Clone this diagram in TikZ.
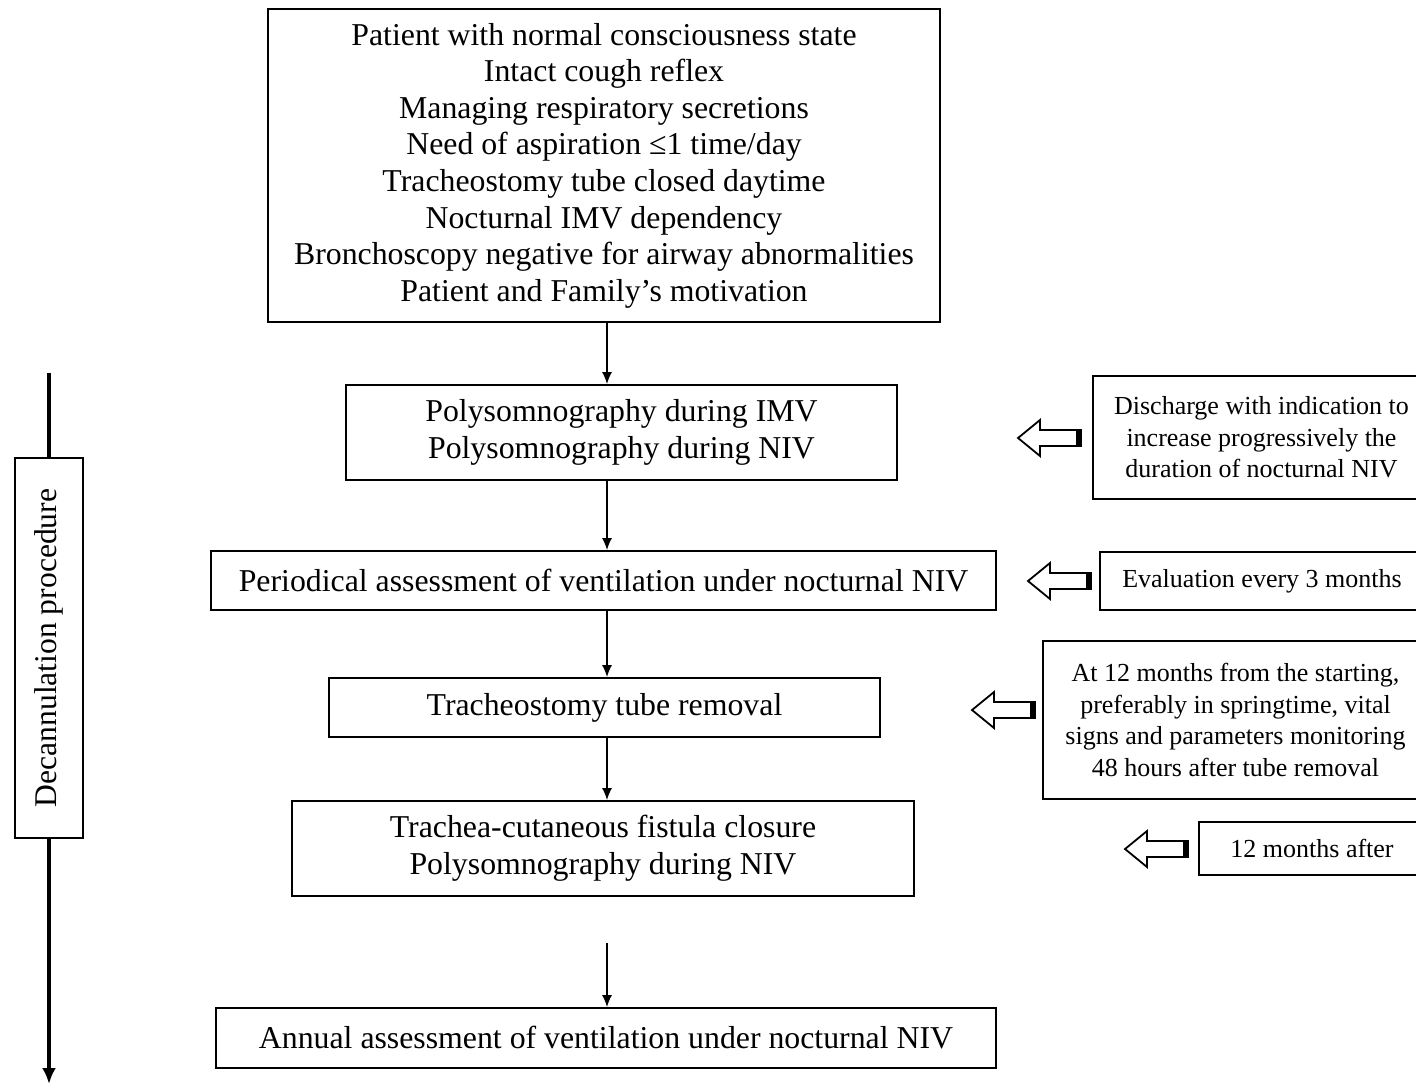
\documentclass[tikz,border=0pt]{standalone}
\usepackage{fontspec}
\setmainfont{Liberation Serif}
\usetikzlibrary{arrows.meta}
\begin{document}
\begin{tikzpicture}[x=0.5pt,y=-0.5pt,
  box/.style={draw, line width=0.9pt, inner sep=0pt, align=center, font=\fontsize{15.9}{18.3}\selectfont},
  sbox/.style={draw, line width=0.9pt, inner sep=0pt, align=center, font=\fontsize{13}{15.8}\selectfont},
  flow/.style={line width=0.75pt, -{Latex[length=6pt,width=5pt]}},
  hollow/.pic={
    \draw[line width=0.9pt, fill=white] (0,0) -- (22,-18) -- (22,-8) -- (63,-8) -- (63,8) -- (22,8) -- (22,18) -- cycle;
    \fill (58,-8) rectangle (63,8);
  }]
\useasboundingbox (0,0) rectangle (1416,1086);
\clip (0,0) rectangle (1416,1086);

\node[box, minimum width=336pt, minimum height=156.5pt] (top) at (604,165.5)
 {Patient with normal consciousness state\\ Intact cough reflex\\ Managing respiratory secretions\\ Need of aspiration ≤1 time/day\\ Tracheostomy tube closed daytime\\ Nocturnal IMV dependency\\ Bronchoscopy negative for airway abnormalities\\ Patient and Family’s motivation};
\node[box, minimum width=275.5pt, minimum height=47.5pt] (b2) at (621.5,432.5)
 {Polysomnography during IMV\\ Polysomnography during NIV};
\node[box, minimum width=392.5pt, minimum height=29.5pt] (b3) at (603.5,580.5)
 {Periodical assessment of ventilation under nocturnal NIV};
\node[box, minimum width=275.5pt, minimum height=29.5pt] (b4) at (604.5,707.5)
 {Tracheostomy tube removal};
\node[box, minimum width=311pt, minimum height=47.5pt] (b5) at (603,848.5)
 {Trachea-cutaneous fistula closure\\ Polysomnography during NIV};
\node[box, minimum width=390pt, minimum height=30pt] (b6) at (606,1038)
 {Annual assessment of ventilation under nocturnal NIV};

\node[sbox, minimum width=168.5pt, minimum height=61.5pt] (r1) at (1261.5,437.5)
 {Discharge with indication to\\ increase progressively the\\ duration of nocturnal NIV};
\node[sbox, minimum width=162pt, minimum height=29pt] (r2) at (1262,581)
 {Evaluation every 3 months};
\node[sbox, minimum width=192.5pt, minimum height=79pt] (r3) at (1235.5,720)
 {At 12 months from the starting,\\ preferably in springtime, vital\\ signs and parameters monitoring\\ 48 hours after tube removal};
\node[sbox, minimum width=113pt, minimum height=26.5pt] (r4) at (1312,848.5)
 {12 months after};

\pic at (1018,438) {hollow};
\pic at (1028,581) {hollow};
\pic at (972,710) {hollow};
\pic at (1125,849) {hollow};

\coordinate (ax) at (607,0);
\coordinate (s6) at (607,943);
\draw[flow] (top.south -| ax) -- (b2.north -| ax);
\draw[flow] (b2.south -| ax) -- (b3.north -| ax);
\draw[flow] (b3.south -| ax) -- (b4.north -| ax);
\draw[flow] (b4.south -| ax) -- (b5.north -| ax);
\draw[flow] (s6) -- (b6.north -| ax);

\node[draw, line width=0.9pt, inner sep=0pt, rotate=90, minimum width=190pt, minimum height=34pt, font=\fontsize{15.8}{18}\selectfont] (lab) at (49,648) {Decannulation procedure};
\coordinate (ls) at (49,373);
\coordinate (le) at (49,1084);
\draw[line width=2pt] (ls) -- (lab.east);
\draw[line width=2pt, -{Latex[length=8pt,width=7pt]}] (lab.west) -- (le);
\end{tikzpicture}
\end{document}
